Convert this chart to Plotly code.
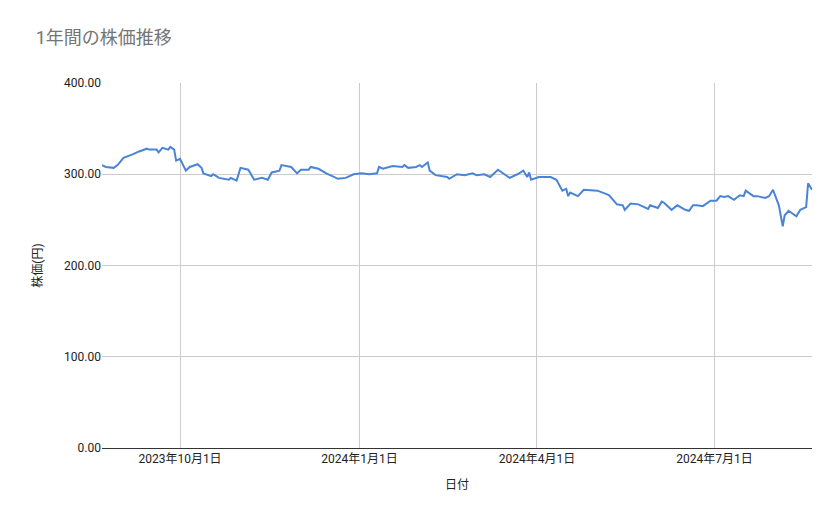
import plotly.graph_objects as go

dates = ["2023-08-22","2023-08-24","2023-08-28","2023-08-30","2023-09-02","2023-09-05","2023-09-07","2023-09-10",
"2023-09-14","2023-09-15","2023-09-19","2023-09-20","2023-09-22","2023-09-25","2023-09-26","2023-09-28","2023-09-29",
"2023-10-01","2023-10-04","2023-10-06","2023-10-10","2023-10-12","2023-10-13","2023-10-17","2023-10-18","2023-10-21",
"2023-10-25","2023-10-26","2023-10-27","2023-10-30","2023-11-01","2023-11-05","2023-11-08","2023-11-12","2023-11-15",
"2023-11-17","2023-11-21","2023-11-22","2023-11-27","2023-11-30","2023-12-02","2023-12-06","2023-12-07","2023-12-11",
"2023-12-15","2023-12-19","2023-12-21","2023-12-25","2023-12-29","2024-01-02","2024-01-06","2024-01-10","2024-01-11",
"2024-01-13","2024-01-18","2024-01-23","2024-01-24","2024-01-26","2024-01-30","2024-02-01","2024-02-02","2024-02-05",
"2024-02-06","2024-02-09","2024-02-15","2024-02-16","2024-02-20","2024-02-24","2024-02-28","2024-03-01","2024-03-05",
"2024-03-08","2024-03-12","2024-03-18","2024-03-22","2024-03-25","2024-03-27","2024-03-28","2024-03-29","2024-04-02",
"2024-04-08","2024-04-11","2024-04-14","2024-04-16","2024-04-17","2024-04-18","2024-04-22","2024-04-25","2024-04-30",
"2024-05-02","2024-05-07","2024-05-08","2024-05-12","2024-05-15","2024-05-16","2024-05-19","2024-05-23","2024-05-28",
"2024-05-29","2024-06-02","2024-06-04","2024-06-05","2024-06-09","2024-06-12","2024-06-16","2024-06-18","2024-06-20",
"2024-06-22","2024-06-25","2024-06-29","2024-07-02","2024-07-04","2024-07-06","2024-07-08","2024-07-11","2024-07-14",
"2024-07-16","2024-07-17","2024-07-21","2024-07-23","2024-07-27","2024-07-29","2024-07-31","2024-08-03","2024-08-05",
"2024-08-06","2024-08-08","2024-08-12","2024-08-14","2024-08-17","2024-08-18","2024-08-20"]
prices = [310,308,307,310,318,320,322,325,
328,327,327,324,329,327,330,327,315,
317,304,308,311,307,301,298,300,296,
295,294,296,293,307,305,294,296,294,
302,304,310,308,301,305,305,308,306,
301,297,295,296,300,301,300,301,308,
306,309,308,310,307,308,310,308,313,
304,299,297,295,300,299,301,299,300,
297,305,296,300,304,297,302,294,297,297,
294,282,284,276,280,276,283,282,282,
278,277,267,266,261,268,267,262,266,
263,270,269,261,266,261,260,266,266,
265,271,271,276,275,276,272,277,276,
282,276,276,274,276,283,266,243,255,
260,254,261,264,290,283,275]

tick_vals = ["2023-10-01","2024-01-01","2024-04-01","2024-07-01"]
tick_text = ["2023年10月1日","2024年1月1日","2024年4月1日","2024年7月1日"]

font = "Roboto, 'Noto Sans CJK JP', sans-serif"
fig = go.Figure(go.Scatter(x=dates, y=prices, mode="lines",
                           line=dict(color="#4a84d6", width=2)))
fig.update_layout(
    width=839, height=519, paper_bgcolor="white", plot_bgcolor="white",
    margin=dict(l=94, r=35, t=75, b=79),
    title=dict(text="1年間の株価推移", x=0.033, y=0.955, xanchor="left",
               font=dict(size=18, color="#757575", family=font)),
    font=dict(family=font, size=12, color="#222"),
    showlegend=False,
)
fig.update_xaxes(range=["2023-08-22","2024-08-20"], tickvals=tick_vals, ticktext=tick_text,
                 showgrid=True, gridcolor="#cccccc", zeroline=False, showline=True, linecolor="#333",
                 title=dict(text="日付", font=dict(size=12)), ticks="", tickfont=dict(size=12))
fig.update_yaxes(range=[0, 400], tickvals=[0,100,200,300,400], tickformat=".2f",
                 showgrid=True, gridcolor="#cccccc", zeroline=False, showline=False,
                 title=dict(text="株価(円)", font=dict(size=12), standoff=18), ticks="", tickfont=dict(size=12))
fig.write_html("out.html")
